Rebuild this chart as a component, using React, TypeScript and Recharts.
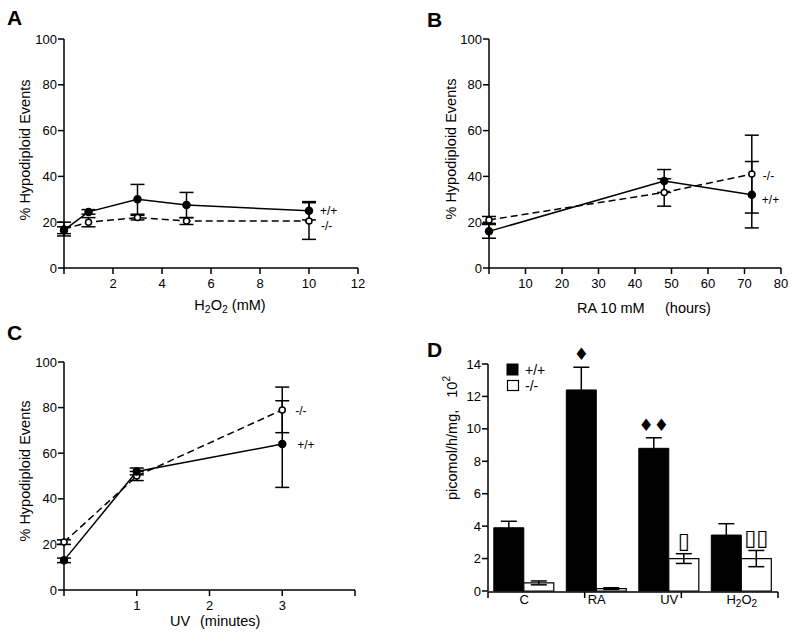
import React from 'react';
import { LineChart, Line, XAxis, YAxis, ErrorBar, LabelList, BarChart, Bar } from 'recharts';

const FONT = '"Liberation Sans", Arial, Helvetica, sans-serif';

// ---- Panel A: H2O2 ----
const h2o2Dose = [0, 1, 3, 5, 10];
const h2o2WT = [16.5, 24.5, 30, 27.5, 25];
const h2o2WTErr = [1.5, 1, 6.5, 5.5, 4];
const h2o2KO = [17, 20, 22, 20.5, 20.5];
const h2o2KOErr = [3, 2, 1, 1.5, 8];
const h2o2Ticks = [0, 2, 4, 6, 8, 10, 12];

// ---- Panel B: RA ----
const raHours = [0, 48, 72];
const raWT = [16, 38, 32];
const raWTErr = [3, 5, 14.5];
const raKO = [21, 33, 41];
const raKOErr = [1.5, 6, 17];
const raTicks = [0, 10, 20, 30, 40, 50, 60, 70, 80];

// ---- Panel C: UV ----
const uvMinutes = [0, 1, 3];
const uvWT = [13, 52, 64];
const uvWTErr = [1, 1.5, 19];
const uvKO = [21, 50, 79];
const uvKOErr = [1, 2, 10];
const uvTicks = [0, 1, 2, 3, 4];
const uvTickLabels = ['', '1', '2', '3', ''];

const pctTicks = [0, 20, 40, 60, 80, 100];

// ---- Panel D: activity ----
const treatments = ['C', 'RA', 'UV', 'H2O2'];
const activityWT = [3.9, 12.4, 8.8, 3.45];
const activityWTErr = [0.4, 1.4, 0.65, 0.7];
const activityKO = [0.5, 0.15, 2.0, 2.0];
const activityKOErr = [0.12, 0.05, 0.3, 0.5];
const wtMarks = ['', '\u2666', '\u2666\u2666', ''];
const koMarks = ['', '', '\u25AF', '\u25AF\u25AF'];
const activityTicks = [0, 2, 4, 6, 8, 10, 12, 14];
const boundaryTicks = [0, 1, 2, 3, 4];

const seriesNames = { wt: '+/+', ko: '-/-' };

const buildRows = (xs: number[], wt: number[], wtE: number[], ko: number[], koE: number[]) =>
  xs.map((x, i) => ({ x, wt: wt[i], wtErr: wtE[i], ko: ko[i], koErr: koE[i] }));

const axisLine = { stroke: '#000', strokeWidth: 1.5 };
const tickStyle = { fill: '#000', fontSize: 13, fontFamily: FONT };

const endLabel = (text: string, lastIndex: number, dx: number, dy: number) => (props: any) => {
  const { x, y, index } = props;
  if (index !== lastIndex) return null;
  return (
    <text x={x + dx} y={y + dy} fontSize={12} fontFamily={FONT} fill="#000" dominantBaseline="central">
      {text}
    </text>
  );
};

type LinePanelProps = {
  left: number;
  top: number;
  rows: any[];
  margin: { top: number; right: number; bottom: number; left: number };
  domain: [number, number];
  ticks: number[];
  fmt: (v: number, i: number) => string;
  wtLabel: [number, number];
  koLabel: [number, number];
};

function LinePanel({ left, top, rows, margin, domain, ticks, fmt, wtLabel, koLabel }: LinePanelProps) {
  const last = rows.length - 1;
  return (
    <div style={{ position: 'absolute', left, top }}>
      <LineChart width={400} height={320} data={rows} margin={margin}>
        <XAxis
          dataKey="x"
          type="number"
          domain={domain}
          ticks={ticks}
          interval={0}
          tickFormatter={fmt}
          axisLine={axisLine}
          tickLine={axisLine}
          tickSize={6}
          tickMargin={5}
          tick={tickStyle}
          height={30}
        />
        <YAxis
          type="number"
          domain={[0, 100]}
          ticks={pctTicks}
          interval={0}
          axisLine={axisLine}
          tickLine={axisLine}
          tickSize={6}
          tickMargin={1}
          tick={tickStyle}
          width={40}
        />
        <Line
          dataKey="ko"
          stroke="#000"
          strokeWidth={1.5}
          strokeDasharray="7 4"
          dot={{ r: 3, fill: '#fff', stroke: '#000', strokeWidth: 1.5, strokeDasharray: '' }}
          isAnimationActive={false}
        >
          <ErrorBar dataKey="koErr" direction="y" width={7} stroke="#000" strokeWidth={1.5} />
          <LabelList dataKey="ko" content={endLabel(seriesNames.ko, last, koLabel[0], koLabel[1])} />
        </Line>
        <Line
          dataKey="wt"
          stroke="#000"
          strokeWidth={1.5}
          dot={{ r: 3.5, fill: '#000', stroke: '#000' }}
          isAnimationActive={false}
        >
          <ErrorBar dataKey="wtErr" direction="y" width={7} stroke="#000" strokeWidth={1.5} />
          <LabelList dataKey="wt" content={endLabel(seriesNames.wt, last, wtLabel[0], wtLabel[1])} />
        </Line>
      </LineChart>
    </div>
  );
}

const h2o2Rows = buildRows(h2o2Dose, h2o2WT, h2o2WTErr, h2o2KO, h2o2KOErr);
const raRows = buildRows(raHours, raWT, raWTErr, raKO, raKOErr);
const uvRows = buildRows(uvMinutes, uvWT, uvWTErr, uvKO, uvKOErr);

const activityRows = treatments.map((c, i) => ({
  cat: c,
  wt: activityWT[i],
  wtErr: activityWTErr[i],
  ko: activityKO[i],
  koErr: activityKOErr[i],
}));

const markLabel = (marks: string[], errs: number[], offset: number, size: number) => (props: any) => {
  const { x, y, width, height, value, index } = props;
  const m = marks[index];
  if (!m || !value) return null;
  const errPx = (errs[index] * height) / value;
  return (
    <text
      x={x + width / 2}
      y={y - errPx - offset}
      textAnchor="middle"
      dominantBaseline="central"
      fontSize={size}
      fontFamily='"DejaVu Sans", sans-serif'
      fill="#000"
    >
      {m}
    </text>
  );
};

const CatTick = (props: any) => {
  const { x, y, payload } = props;
  const v = String(payload.value);
  if (v === 'H2O2') {
    return (
      <text x={x} y={y} dy="0.71em" textAnchor="middle" fontSize={13} fontFamily={FONT} fill="#000">
        <tspan>H</tspan>
        <tspan fontSize={10} dy={3}>2</tspan>
        <tspan dy={-3}>O</tspan>
        <tspan fontSize={10} dy={3}>2</tspan>
      </text>
    );
  }
  return (
    <text x={x} y={y} dy="0.71em" textAnchor="middle" fontSize={13} fontFamily={FONT} fill="#000">
      {v}
    </text>
  );
};

function BarPanel() {
  return (
    <div style={{ position: 'absolute', left: 400, top: 320 }}>
      <BarChart
        width={400}
        height={320}
        data={activityRows}
        margin={{ top: 44, right: 22, bottom: 27, left: 48 }}
        barCategoryGap="8%"
        barGap={0}
      >
        <XAxis
          xAxisId="cat"
          dataKey="cat"
          axisLine={false}
          tickLine={false}
          tickSize={0}
          tickMargin={4}
          tick={<CatTick />}
          height={1}
        />
        <XAxis
          xAxisId="num"
          type="number"
          domain={[0, 4]}
          ticks={boundaryTicks}
          interval={0}
          tickFormatter={() => ''}
          axisLine={axisLine}
          tickLine={axisLine}
          tickSize={6}
          height={21}
        />
        <YAxis
          type="number"
          domain={[0, 14]}
          ticks={activityTicks}
          interval={0}
          axisLine={axisLine}
          tickLine={axisLine}
          tickSize={6}
          tickMargin={1}
          tick={tickStyle}
          width={40}
        />
        <Bar xAxisId="cat" dataKey="wt" fill="#000" stroke="#000" strokeWidth={1} isAnimationActive={false}>
          <ErrorBar dataKey="wtErr" direction="y" width={8} stroke="#000" strokeWidth={1.5} />
          <LabelList dataKey="wt" content={markLabel(wtMarks, activityWTErr, 13, 17)} />
        </Bar>
        <Bar xAxisId="cat" dataKey="ko" fill="#fff" stroke="#000" strokeWidth={1.2} isAnimationActive={false}>
          <ErrorBar dataKey="koErr" direction="y" width={8} stroke="#000" strokeWidth={1.5} />
          <LabelList dataKey="ko" content={markLabel(koMarks, activityKOErr, 13, 22)} />
        </Bar>
      </BarChart>
    </div>
  );
}

const yTitle = (x: number, y: number, children: React.ReactNode) => (
  <text
    x={x}
    y={y}
    transform={`rotate(-90, ${x}, ${y})`}
    textAnchor="middle"
    dominantBaseline="central"
    fontSize={14.5}
    fontFamily={FONT}
    fill="#000"
  >
    {children}
  </text>
);

export default function App() {
  return (
    <div
      style={{
        position: 'absolute',
        left: 0,
        top: 0,
        width: 800,
        height: 640,
        background: '#fff',
        fontFamily: FONT,
        overflow: 'hidden',
      }}
    >
      <LinePanel
        left={0}
        top={0}
        rows={h2o2Rows}
        margin={{ top: 39, right: 42, bottom: 22, left: 24 }}
        domain={[0, 12]}
        ticks={h2o2Ticks}
        fmt={(v) => (v === 0 ? '' : String(v))}
        wtLabel={[11, 0]}
        koLabel={[12, 5]}
      />
      <LinePanel
        left={400}
        top={0}
        rows={raRows}
        margin={{ top: 39, right: 19, bottom: 22, left: 49 }}
        domain={[0, 80]}
        ticks={raTicks}
        fmt={(v) => (v === 0 ? '' : String(v))}
        wtLabel={[10, 5]}
        koLabel={[11, 2]}
      />
      <LinePanel
        left={0}
        top={320}
        rows={uvRows}
        margin={{ top: 42, right: 45, bottom: 20, left: 24 }}
        domain={[0, 4]}
        ticks={uvTicks}
        fmt={(v) => uvTickLabels[uvTicks.indexOf(v)] ?? ''}
        wtLabel={[15, 1]}
        koLabel={[13, 1]}
      />
      <BarPanel />
      <svg
        width={800}
        height={640}
        style={{ position: 'absolute', left: 0, top: 0, pointerEvents: 'none' }}
      >
        <g fontFamily={FONT} fontWeight="bold" fontSize={21} fill="#000">
          <text x={7} y={25}>A</text>
          <text x={427} y={27}>B</text>
          <text x={7} y={340}>C</text>
          <text x={427} y={357}>D</text>
        </g>
        {yTitle(25, 150, '% Hypodiploid Events')}
        {yTitle(451, 149, '% Hypodiploid Events')}
        {yTitle(25, 471, '% Hypodiploid Events')}
        {yTitle(452, 438, (
          <>
            <tspan>picomol/h/mg,</tspan>
            <tspan dx={12}>10</tspan>
            <tspan fontSize={10} dy={-6}>2</tspan>
          </>
        ))}
        <text x={230} y={305} textAnchor="middle" dominantBaseline="central" fontSize={14.5} fontFamily={FONT} fill="#000">
          <tspan>H</tspan>
          <tspan fontSize={10.5} dy={4}>2</tspan>
          <tspan dy={-4}>O</tspan>
          <tspan fontSize={10.5} dy={4}>2</tspan>
          <tspan dy={-4}> (mM)</tspan>
        </text>
        <text x={577} y={308} dominantBaseline="central" fontSize={14.5} fontFamily={FONT} fill="#000">RA 10 mM</text>
        <text x={665} y={308} dominantBaseline="central" fontSize={14.5} fontFamily={FONT} fill="#000">(hours)</text>
        <text x={170} y={621} dominantBaseline="central" fontSize={14.5} fontFamily={FONT} fill="#000">UV</text>
        <text x={200} y={621} dominantBaseline="central" fontSize={14.5} fontFamily={FONT} fill="#000">(minutes)</text>
        <g fontFamily={FONT} fontSize={14} fill="#000">
          <rect x={507} y={364} width={11} height={11} fill="#000" stroke="#000" />
          <text x={525} y={370} dominantBaseline="central">{seriesNames.wt}</text>
          <rect x={507.5} y={380.5} width={11} height={10} fill="#fff" stroke="#000" strokeWidth={1.2} />
          <text x={525} y={386} dominantBaseline="central">{seriesNames.ko}</text>
        </g>
      </svg>
    </div>
  );
}
